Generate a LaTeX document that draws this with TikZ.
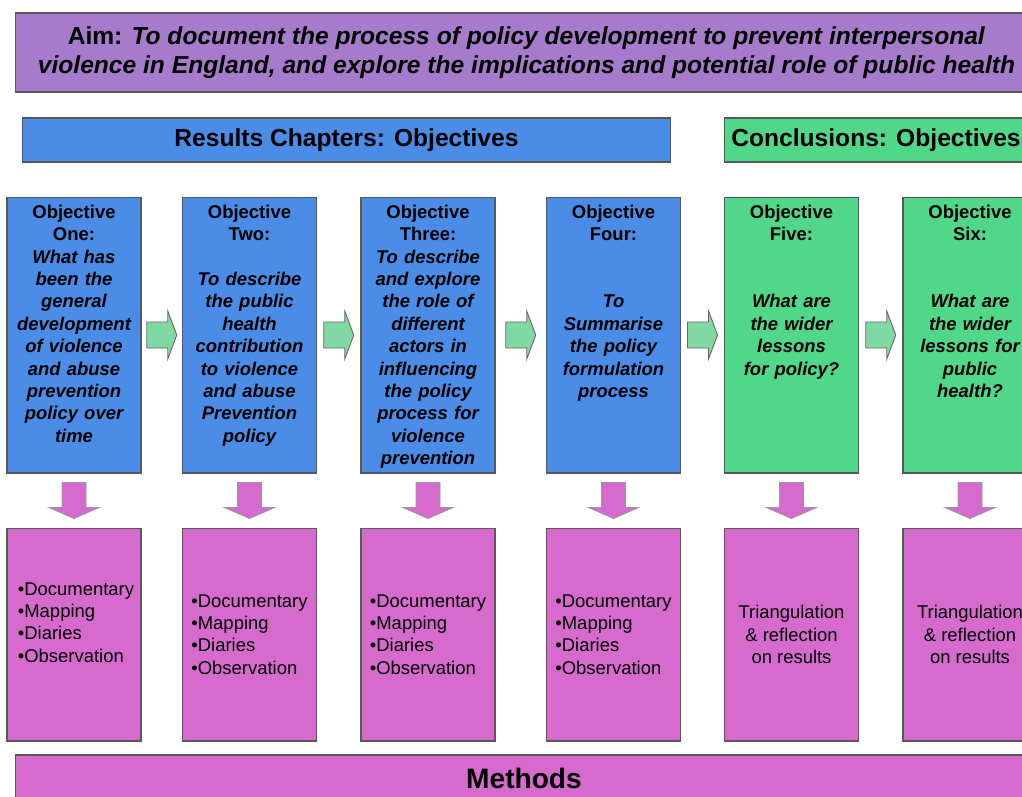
\documentclass[tikz,border=0pt]{standalone}
\usepackage{fontspec}
\setmainfont{Liberation Sans}
\usepackage{tikz}
\usetikzlibrary{positioning,calc}

\definecolor{aimPurple}{HTML}{A67BCB}
\definecolor{objBlueFill}{HTML}{4A8CE6}
\definecolor{objGreenFill}{HTML}{50D78A}
\definecolor{metPink}{HTML}{D66ACD}
\definecolor{arrowGreen}{HTML}{80D9A2}

\tikzset{%
  % Specifications for style of nodes:
            base/.style = {rectangle, draw=black!65, line width=0.6pt,
                           inner sep=0pt, text centered},
          aimBox/.style = {base, fill=aimPurple, minimum width=20.46cm,
                           minimum height=1.58cm, align=center,
                           font=\fontsize{14}{16.4}\selectfont\bfseries},
     resultsHead/.style = {base, fill=objBlueFill, minimum width=12.98cm,
                           minimum height=0.88cm,
                           font=\fontsize{14}{16.4}\selectfont\bfseries},
 conclusionsHead/.style = {resultsHead, fill=objGreenFill, minimum width=6.08cm},
         objBlue/.style = {base, fill=objBlueFill, minimum width=2.68cm,
                           minimum height=5.52cm},
        objGreen/.style = {objBlue, fill=objGreenFill},
          metBox/.style = {base, fill=metPink, minimum width=2.68cm,
                           minimum height=4.26cm},
      methodsBox/.style = {base, fill=metPink, minimum width=20.36cm,
                           minimum height=0.92cm,
                           font=\fontsize{16}{19}\selectfont\bfseries},
         objText/.style = {anchor=north, inner sep=0pt, align=center,
                           text width=2.6cm,
                           font=\fontsize{10.5}{12.76}\selectfont\bfseries},
        listText/.style = {inner sep=0pt, align=left,
                           font=\fontsize{10.5}{12.76}\selectfont},
        triText/.style = {listText, align=center},
      rightArrow/.style = {draw=black!60, line width=0.5pt, fill=arrowGreen},
       downArrow/.style = {draw=black!40, line width=0.5pt, fill=metPink},
}

\begin{document}
\begin{tikzpicture}[x=0.02cm, y=-0.02cm, node distance=1.08cm]
  \useasboundingbox (0,0) rectangle (1022,796);
  \clip (0,0) rectangle (1022,796);
  % Aim and headings
  \node (onAim) [aimBox] at (526.5,52.5)
    {Aim: \textit{To document the process of policy development to prevent interpersonal}\\
     \textit{violence in England, and explore the implications and potential role of public health}};
  \node (onResults)     [resultsHead]     at (346.5,140) {Results Chapters: Objectives};
  \node (onConclusions) [conclusionsHead] at (876,140)   {Conclusions: Objectives};
  % Objective boxes
  \node (onObjOne)   [objBlue]  at (74,335)    {};
  \node (onObjTwo)   [objBlue]  at (249.5,335) {};
  \node (onObjThree) [objBlue]  at (428,335)   {};
  \node (onObjFour)  [objBlue]  at (613.5,335) {};
  \node (onObjFive)  [objGreen] at (791.5,335) {};
  \node (onObjSix)   [objGreen] at (970,335)   {};
  \node (onTxtOne)   [objText] at ($(onObjOne.north)+(0,8)$)
    {Objective\\One:\\\itshape What has\\been the\\general\\development\\of violence\\and abuse\\prevention\\policy over\\time};
  \node (onTxtTwo)   [objText] at ($(onObjTwo.north)+(0,8)$)
    {Objective\\Two:\\~\\\itshape To describe\\the public\\health\\contribution\\to violence\\and abuse\\Prevention\\policy};
  \node (onTxtThree) [objText] at ($(onObjThree.north)+(0,8)$)
    {Objective\\Three:\\\itshape To describe\\and explore\\the role of\\different\\actors in\\influencing\\the policy\\process for\\violence\\prevention};
  \node (onTxtFour)  [objText] at ($(onObjFour.north)+(0,8)$)
    {Objective\\Four:\\~\\~\\\itshape To\\Summarise\\the policy\\formulation\\process};
  \node (onTxtFive)  [objText] at ($(onObjFive.north)+(0,8)$)
    {Objective\\Five:\\~\\~\\\itshape What are\\the wider\\lessons\\for policy?};
  \node (onTxtSix)   [objText] at ($(onObjSix.north)+(0,8)$)
    {Objective\\Six:\\~\\~\\\itshape What are\\the wider\\lessons for\\public\\health?};
  % Method boxes
  \node (onMetOne)   [metBox, below=of onObjOne]   {};
  \node (onMetTwo)   [metBox, below=of onObjTwo]   {};
  \node (onMetThree) [metBox, below=of onObjThree] {};
  \node (onMetFour)  [metBox, below=of onObjFour]  {};
  \node (onMetFive)  [metBox, below=of onObjFive]  {};
  \node (onMetSix)   [metBox, below=of onObjSix]   {};
  \node (onListOne)   [listText] at ($(onMetOne.center)+(2,-12)$)
    {•Documentary\\•Mapping\\•Diaries\\•Observation};
  \node (onListTwo)   [listText] at (onMetTwo.center)
    {•Documentary\\•Mapping\\•Diaries\\•Observation};
  \node (onListThree) [listText] at (onMetThree.center)
    {•Documentary\\•Mapping\\•Diaries\\•Observation};
  \node (onListFour)  [listText] at (onMetFour.center)
    {•Documentary\\•Mapping\\•Diaries\\•Observation};
  \node (onTriFive)   [triText] at (onMetFive.center)
    {Triangulation\\\& reflection\\on results};
  \node (onTriSix)    [triText] at (onMetSix.center)
    {Triangulation\\\& reflection\\on results};
  \node (onMethods) [methodsBox] at (524,778) {Methods};
  % Block arrows
  \foreach \a/\b in {One/Two,Two/Three,Three/Four,Four/Five,Five/Six} {
    \path ($(onObj\a.east)!0.5!(onObj\b.west)$) coordinate (rMid);
    \draw[rightArrow] (rMid) ++(-15,-13) -- ++(21,0) -- ++(0,-11) -- ++(9,24)
      -- ++(-9,24) -- ++(0,-11) -- ++(-21,0) -- cycle;
  }
  \foreach \n in {One,Two,Three,Four,Five,Six} {
    \path ($(onObj\n.south)!0.5!(onMet\n.north)$) coordinate (dMid);
    \draw[downArrow] (dMid) ++(-12,-18) -- ++(24,0) -- ++(0,25) -- ++(13,0)
      -- ++(-25,11) -- ++(-25,-11) -- ++(13,0) -- cycle;
  }
\end{tikzpicture}
\end{document}
